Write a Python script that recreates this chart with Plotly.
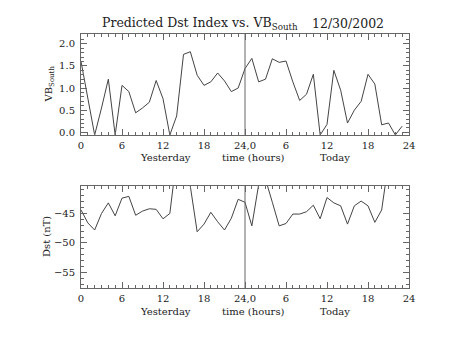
import plotly.graph_objects as go
from plotly.subplots import make_subplots

hours = list(range(48))
vb_south = [1.60, 0.78, -0.06, 0.55, 1.20, -0.06, 1.06, 0.92, 0.44, 0.55,
            0.68, 1.17, 0.76, -0.06, 0.37, 1.76, 1.82, 1.29, 1.06, 1.14,
            1.34, 1.16, 0.92, 1.00, 1.44, 1.67, 1.14, 1.20, 1.66, 1.58,
            1.61, 1.14, 0.72, 0.86, 1.31, -0.06, 0.18, 1.40, 0.95, 0.21,
            0.50, 0.70, 1.31, 1.09, 0.17, 0.21, -0.06, 0.14]
dst = [-44.4, -46.6, -47.8, -45.0, -43.2, -45.4, -42.4, -42.1, -45.3, -44.6,
       -44.2, -44.3, -45.9, -45.0, -35.5, -37.0, -40.4, -48.1, -46.8, -44.8,
       -46.4, -47.8, -45.8, -42.6, -43.1, -47.1, -40.1, -39.2, -43.1, -47.1,
       -46.7, -45.1, -45.1, -44.7, -43.6, -45.9, -42.3, -43.2, -43.7, -46.8,
       -43.7, -42.9, -43.7, -46.5, -44.4, -36.3, -37.0, -38.0]

xtick_vals = [0, 6, 12, 18, 24, 30, 36, 42, 48]
xtick_text = ["0", "6", "12", "18", "24,0", "6", "12", "18", "24"]
vb_ticks = [0.0, 0.5, 1.0, 1.5, 2.0]
dst_ticks = [-55, -50, -45]

FONT = "DejaVu Serif"
INK = "#222222"
AX = "#666666"

fig = make_subplots(rows=2, cols=1, vertical_spacing=0.0)
fig.add_trace(go.Scatter(x=hours, y=vb_south, mode="lines",
                         line=dict(color="#444444", width=1)), row=1, col=1)
fig.add_trace(go.Scatter(x=hours, y=dst, mode="lines",
                         line=dict(color="#444444", width=1)), row=2, col=1)

axis_common = dict(showline=True, linecolor=AX, linewidth=1, mirror="allticks",
                   ticks="inside", ticklen=6, tickcolor=AX, showgrid=False,
                   zeroline=False, tickfont=dict(family=FONT, size=10, color=INK))
xax = dict(axis_common, range=[0, 48], tickvals=xtick_vals, ticktext=xtick_text,
           ticklabelstandoff=1,
           minor=dict(ticks="inside", dtick=1, tick0=0, ticklen=3, tickcolor=AX))
fig.update_xaxes(**xax, row=1, col=1)
fig.update_xaxes(**xax, row=2, col=1)
fig.update_yaxes(**axis_common, range=[-0.06, 2.22], tickvals=vb_ticks, tickformat=".1f",
                 ticklabelstandoff=3,
                 minor=dict(ticks="inside", dtick=0.1, tick0=0, ticklen=3, tickcolor=AX),
                 domain=[0.6024, 1.0], row=1, col=1)
fig.update_yaxes(**axis_common, range=[-57.63, -40.34], tickvals=dst_ticks,
                 ticklabelstandoff=3,
                 minor=dict(ticks="inside", dtick=1, tick0=0, ticklen=3, tickcolor=AX),
                 domain=[0.0, 0.4016], row=2, col=1)

for xr, yr in (("x", "y"), ("x2", "y2")):
    fig.add_shape(type="line", xref=xr, yref=yr + " domain", x0=24, x1=24, y0=0, y1=1,
                  line=dict(color=AX, width=1))

ann = []
for xr, yr in (("x", "y"), ("x2", "y2")):
    for txt, xv in (("Yesterday", 12.4), ("time (hours)", 25.2), ("Today", 37.1)):
        ann.append(dict(text=txt, xref=xr, yref=yr + " domain", x=xv, y=0, yshift=-23,
                        xanchor="center", yanchor="middle", showarrow=False,
                        font=dict(family=FONT, size=10, color=INK)))
ann.append(dict(text="Predicted Dst Index vs. VB<sub>South</sub>", xref="paper", yref="paper",
                x=(100 - 81) / 328, y=1, yshift=11, xanchor="left", yanchor="middle",
                showarrow=False, font=dict(family=FONT, size=12.5, color=INK)))
ann.append(dict(text="12/30/2002", xref="paper", yref="paper",
                x=(310 - 81) / 328, y=1, yshift=11, xanchor="left", yanchor="middle",
                showarrow=False, font=dict(family=FONT, size=12.5, color=INK)))
ann.append(dict(text="VB<sub>South</sub>", xref="paper", yref="y domain", x=(49 - 81) / 328,
                y=0.5, textangle=-90, xanchor="center", yanchor="middle", showarrow=False,
                font=dict(family=FONT, size=10, color=INK)))
ann.append(dict(text="Dst (nT)", xref="paper", yref="y2 domain", x=(47 - 81) / 328,
                y=0.5, textangle=-90, xanchor="center", yanchor="middle", showarrow=False,
                font=dict(family=FONT, size=10, color=INK)))

fig.update_layout(width=453, height=340, margin=dict(l=81, r=44, t=34, b=52),
                  paper_bgcolor="white", plot_bgcolor="white", showlegend=False,
                  annotations=ann)
fig.write_html("out.html")
